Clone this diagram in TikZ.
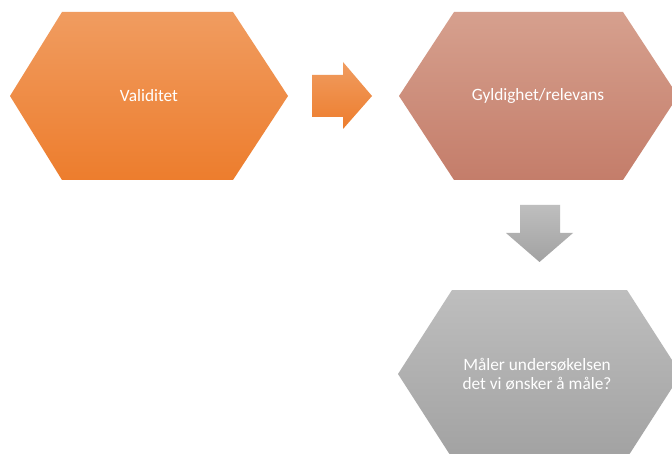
\documentclass[tikz,border=0pt]{standalone}
\usepackage{fontspec}
\setmainfont{Carlito}
\definecolor{orTop}{RGB}{240,156,96}
\definecolor{orBot}{RGB}{237,125,45}
\definecolor{rsTop}{RGB}{214,160,142}
\definecolor{rsBot}{RGB}{196,125,106}
\definecolor{gyTop}{RGB}{190,190,190}
\definecolor{gyBot}{RGB}{162,162,162}
\tikzset{
  lbl/.style={text=white, font=\fontsize{17.3}{19}\selectfont, align=center, inner sep=0pt},
  orfill/.style={top color=orTop, bottom color=orBot, draw=none},
  rsfill/.style={top color=rsTop, bottom color=rsBot, draw=none},
  gyfill/.style={top color=gyTop, bottom color=gyBot, draw=none}
}
\begin{document}
\begin{tikzpicture}[x=1pt,y=1pt]
\useasboundingbox (0,0) rectangle (672,453);
\clip (0,0) rectangle (672,453);
\fill[white] (0,0) rectangle (672,453);
% hexagon 1
\path[orfill] (10,357) -- (62,441) -- (233,441) -- (288,357) -- (233,273) -- (62,273) -- cycle;
\node[lbl] (h1) at (149,357) {Validitet};
% right arrow
\path[orfill] (312,378) -- (343,378) -- (343,391) -- (372,357) -- (343,324) -- (343,336) -- (312,336) -- cycle;
% hexagon 2
\path[rsfill] (399,357) -- (454,441) -- (623,441) -- (678,357) -- (623,273) -- (454,273) -- cycle;
\node[lbl] (h2) at (538,357) {Gyldighet/relevans};
% down arrow
\path[gyfill] (520,248) -- (560,248) -- (560,220) -- (573,220) -- (539.5,191) -- (506,220) -- (520,220) -- cycle;
% hexagon 3
\path[gyfill] (398,79) -- (452,163) -- (627,163) -- (681,79) -- (627,-5) -- (452,-5) -- cycle;
\node[lbl] (h3) at (537,79) {Måler undersøkelsen\\det vi ønsker å måle?};
\end{tikzpicture}
\end{document}
